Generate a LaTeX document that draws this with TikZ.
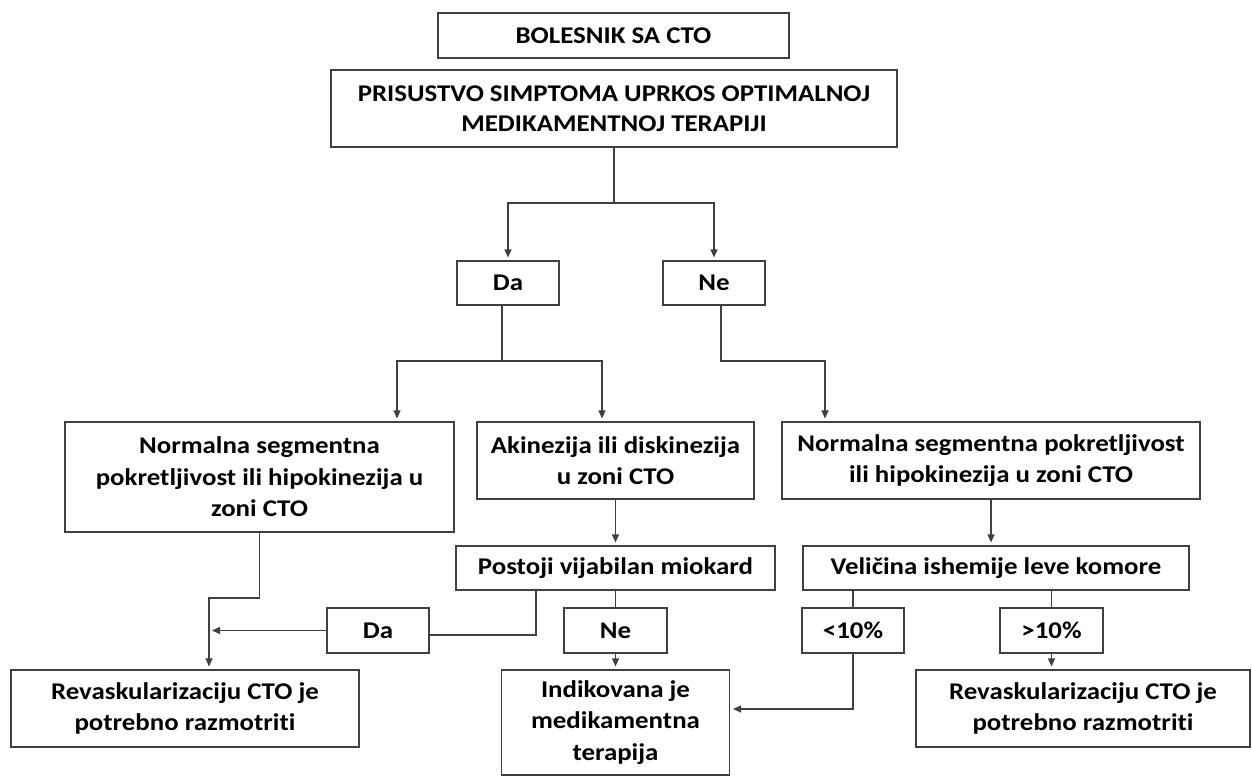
\documentclass[tikz,border=0pt]{standalone}
\usepackage{fontspec}
\setmainfont{Carlito}[FakeStretch=1.12, Ligatures=NoCommon]
\usetikzlibrary{arrows.meta}
\begin{document}
\begin{tikzpicture}[x=1pt,y=-1pt,
 box/.style={draw=black!75, line width=1.1pt, fill=white, align=center, inner sep=0pt, text=black, font=\bfseries\fontsize{24}{31.5}\selectfont},
 topbox/.style={box, font=\bfseries\fontsize{24}{30}\selectfont},
 con/.style={draw=black!75, line width=1.1pt},
 arr/.style={con, -{Triangle[length=8pt,width=7pt]}, shorten >=3pt}]
\useasboundingbox (0,0) rectangle (1252,776);
% nodes
\node[topbox, minimum width=351, minimum height=45] (b1) at (613.5,35.5) {BOLESNIK SA CTO};
\node[topbox, minimum width=566, minimum height=77] (b2) at (614,108.5) {PRISUSTVO SIMPTOMA UPRKOS OPTIMALNOJ\\MEDIKAMENTNOJ TERAPIJI};
\node[box, minimum width=102, minimum height=44] (da1) at (508,283) {Da};
\node[box, minimum width=102, minimum height=44] (ne1) at (714,283) {Ne};
\node[box, minimum width=389, minimum height=110] (nl) at (259.5,477) {Normalna segmentna\\pokretljivost ili hipokinezija u\\zoni CTO};
\node[box, minimum width=277, minimum height=77] (ak) at (615.5,460.5) {Akinezija ili diskinezija\\u zoni CTO};
\node[box, minimum width=418, minimum height=77] (nr) at (991,460.5) {Normalna segmentna pokretljivost\\ili hipokinezija u zoni CTO};
\node[box, minimum width=319, minimum height=44] (po) at (615.5,568) {Postoji vijabilan miokard};
\node[box, minimum width=386, minimum height=44] (ve) at (996,568) {Veličina ishemije leve komore};
\node[box, minimum width=102, minimum height=45] (da2) at (378,630.5) {Da};
\node[box, minimum width=103, minimum height=45] (ne2) at (615.5,630.5) {Ne};
\node[box, minimum width=102, minimum height=45] (lt) at (853,630.5) {<10\%};
\node[box, minimum width=103, minimum height=45] (gt) at (1051.5,630.5) {>10\%};
\node[box, minimum width=348, minimum height=77] (rl) at (185,708.5) {Revaskularizaciju CTO je\\potrebno razmotriti};
\node[box, minimum width=228, minimum height=105] (ind) at (615.5,722.5) {Indikovana je\\medikamentna\\terapija};
\node[box, minimum width=334, minimum height=77] (rr) at (1083,708.5) {Revaskularizaciju CTO je\\potrebno razmotriti};
% junctions
\coordinate (j1) at (614,203);
\coordinate (j2) at (502,361);
\coordinate (j2l) at (397,361);
\coordinate (j2r) at (602,361);
\coordinate (j3) at (721,361);
\coordinate (j3r) at (825,361);
\coordinate (j5) at (536,635);
\coordinate (j6) at (853,709);
\coordinate (j7) at (259.5,598);
\coordinate (j8) at (209,598);
% connectors
\draw[con] (b2.south) -- (j1);
\draw[arr] (j1) -| (da1.north);
\draw[arr] (j1) -| (ne1.north);
\draw[con] (da1.south -| j2) -- (j2);
\draw[arr] (j2) -- (j2l) -- (j2l |- nl.north);
\draw[arr] (j2) -- (j2r) -- (j2r |- ak.north);
\draw[arr] (ne1.south -| j3) -- (j3) -- (j3r) -- (j3r |- nr.north);
\draw[arr] (ak) -- (po);
\draw[arr] (nr.south) -- (nr.south |- ve.north);
\draw[con] (po.south -| j5) -- (j5) -- (j5 -| da2.east);
\draw[con] (po) -- (ne2);
\draw[arr] (ne2) -- (ind);
\draw[con] (ve.south -| lt.north) -- (lt.north);
\draw[con] (ve.south -| gt.north) -- (gt.north);
\draw[arr] (lt.south) -- (j6) -- (j6 -| ind.east);
\draw[arr] (gt.south) -- (gt.south |- rr.north);
\draw[arr] (nl.south) -- (j7) -- (j8) -- (j8 |- rl.north);
\draw[arr] (da2.west) -- (j8 |- da2.west);
\end{tikzpicture}
\end{document}
